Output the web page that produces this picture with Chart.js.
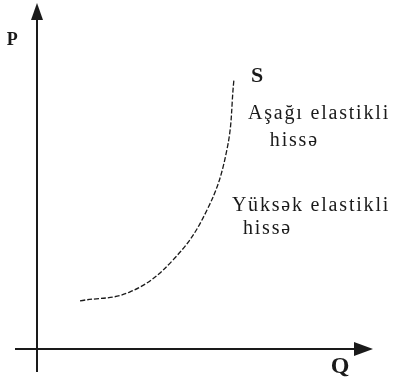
<!DOCTYPE html>
<html>
<head>
<meta charset="utf-8">
<script src="https://cdn.jsdelivr.net/npm/chart.js@4/dist/chart.umd.min.js"></script>
<style>
  html, body { margin: 0; padding: 0; background: #fff; }
  #wrap { width: 401px; height: 389px; }
</style>
</head>
<body>
<div id="wrap"><canvas id="myChart" width="401" height="389"></canvas></div>
<script>
// --- Data ---
const supplyQ = [1.28, 2.77, 4.05, 5.06, 5.65, 5.86];
const supplyP = [1.40, 1.66, 2.59, 4.04, 5.78, 7.82];

const labelTexts = ['S', 'Aşağı elastikli', 'hissə', 'Yüksək elastikli', 'hissə', 'Q', 'P'];
const labelQ = [6.55, 6.28, 6.93, 5.80, 6.13, 9.02, -0.74];
const labelP = [7.94, 6.69, 5.90, 4.01, 3.34, -0.52, 8.98];

const INK = '#1a1a1a';

// label styles, by index
const labelStyle = [
    { font: 'bold 22px "Liberation Serif"', align: 'center', base: 'middle', spacing: 0 },
    { font: '20px "Liberation Serif"', align: 'left', base: 'alphabetic', spacing: 1.8 },
    { font: '20px "Liberation Serif"', align: 'left', base: 'alphabetic', spacing: 1.8 },
    { font: '20px "Liberation Serif"', align: 'left', base: 'alphabetic', spacing: 1.8 },
    { font: '20px "Liberation Serif"', align: 'left', base: 'alphabetic', spacing: 1.8 },
    { font: 'bold 24px "Liberation Serif"', align: 'center', base: 'middle', spacing: 0 },
    { font: 'bold 18px "Liberation Serif"', align: 'center', base: 'middle', spacing: 0 }
];

// --- Axes with arrows + text labels ---
const axesPlugin = {
    id: 'axesPlugin',
    afterDraw(chart) {
        const ctx = chart.ctx;
        const x = chart.scales.x;
        const y = chart.scales.y;
        const ox = x.getPixelForValue(0);
        const oy = y.getPixelForValue(0);
        const xEnd = x.getPixelForValue(x.max);
        const yEnd = y.getPixelForValue(y.max);

        ctx.save();
        ctx.strokeStyle = INK;
        ctx.fillStyle = INK;
        ctx.lineWidth = 2;

        // vertical axis
        ctx.beginPath();
        ctx.moveTo(ox, oy + 23);
        ctx.lineTo(ox, yEnd + 12);
        ctx.stroke();
        // horizontal axis
        ctx.beginPath();
        ctx.moveTo(ox - 22, oy);
        ctx.lineTo(xEnd - 14, oy);
        ctx.stroke();

        // arrow heads
        ctx.beginPath();
        ctx.moveTo(ox, yEnd - 2);
        ctx.lineTo(ox - 6, yEnd + 15);
        ctx.lineTo(ox + 6, yEnd + 15);
        ctx.closePath();
        ctx.fill();

        ctx.beginPath();
        ctx.moveTo(xEnd, oy);
        ctx.lineTo(xEnd - 19, oy - 7);
        ctx.lineTo(xEnd - 19, oy + 7);
        ctx.closePath();
        ctx.fill();

        // labels
        labelTexts.forEach((t, i) => {
            const s = labelStyle[i];
            ctx.font = s.font;
            ctx.textAlign = s.align;
            ctx.textBaseline = s.base;
            ctx.letterSpacing = s.spacing + 'px';
            ctx.fillText(t, x.getPixelForValue(labelQ[i]), y.getPixelForValue(labelP[i]));
        });
        ctx.restore();
    }
};

const myChart = new Chart(document.getElementById('myChart'), {
    type: 'scatter',
    data: {
        datasets: [{
            label: 'S',
            data: supplyQ.map((q, i) => ({ x: q, y: supplyP[i] })),
            showLine: true,
            borderColor: INK,
            borderWidth: 1.3,
            borderDash: [5, 2],
            pointRadius: 0,
            tension: 0.4,
            fill: false
        }]
    },
    options: {
        responsive: false,
        animation: false,
        layout: { padding: { left: 37, right: 28, top: 5, bottom: 40 } },
        plugins: {
            legend: { display: false },
            tooltip: { enabled: false }
        },
        scales: {
            x: { type: 'linear', min: 0, max: 10, display: false },
            y: { type: 'linear', min: 0, max: 10, display: false }
        }
    },
    plugins: [axesPlugin]
});
</script>
</body>
</html>
